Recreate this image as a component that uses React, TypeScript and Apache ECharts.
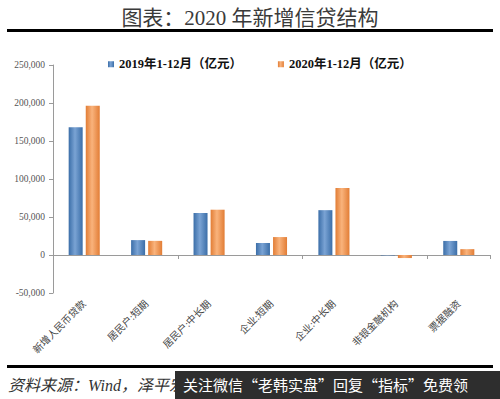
import React, { useEffect, useRef } from "react";
import * as echarts from "echarts";

const categories = ["新增人民币贷款", "居民户:短期", "居民户:中长期", "企业:短期", "企业:中长期", "非银金融机构", "票据融资"];
const series2019 = [168100, 19600, 55300, 15800, 59000, -600, 18500];
const series2020 = [196300, 18600, 59600, 23600, 88000, -4000, 7700];
const seriesNames = ["2019年1-12月（亿元）", "2020年1-12月（亿元）"];
const titleText = "图表：2020 年新增信贷结构";
const sourceText = "资料来源：Wind，泽平宏观";
const bannerText = "关注微信“老韩实盘”回复“指标”免费领";

const serif = "'Liberation Serif', 'Noto Sans CJK SC', serif";

function grad(edge: string, mid: string) {
  return new echarts.graphic.LinearGradient(0, 0, 1, 0, [
    { offset: 0, color: edge },
    { offset: 0.45, color: mid },
    { offset: 1, color: edge },
  ]);
}

export default function App() {
  const ref = useRef<HTMLDivElement>(null);
  useEffect(() => {
    if (!ref.current) return;
    const chart = echarts.init(ref.current, null, { renderer: "svg" });
    chart.setOption({
      animation: false,
      backgroundColor: "#ffffff",
      title: {
        text: titleText,
        left: "center",
        top: 2,
        textStyle: { fontFamily: serif, fontSize: 21, fontWeight: "normal", color: "#3a3a3a" },
      },
      legend: {
        top: 53,
        left: 103,
        itemWidth: 6,
        itemHeight: 6,
        itemGap: 36,
        icon: "rect",
        textStyle: { fontFamily: serif, fontSize: 12.5, fontWeight: "bold", color: "#111" },
        data: seriesNames,
      },
      grid: { left: 53, right: 10, top: 65, bottom: 106, containLabel: false },
      xAxis: [
        {
          type: "category",
          data: categories,
          axisLine: { onZero: true, lineStyle: { color: "#9a9a9a" } },
          axisTick: { show: true, length: 4, lineStyle: { color: "#9a9a9a" } },
          axisLabel: { show: false },
        },
        {
          type: "category",
          data: categories,
          position: "bottom",
          axisLine: { show: false, onZero: false },
          axisTick: { show: false },
          axisLabel: {
            interval: 0,
            rotate: 45,
            fontFamily: serif,
            fontSize: 10,
            color: "#444",
            margin: 9,
          },
        },
      ],
      yAxis: {
        type: "value",
        min: -50000,
        max: 250000,
        interval: 50000,
        splitLine: { show: false },
        axisLine: { show: true, lineStyle: { color: "#9a9a9a" } },
        axisTick: { show: true, length: 4, lineStyle: { color: "#9a9a9a" } },
        axisLabel: {
          fontFamily: serif,
          fontSize: 9.5,
          color: "#555",
          margin: 8,
          formatter: (v: number) => v.toLocaleString("en-US"),
        },
      },
      series: [
        {
          name: seriesNames[0],
          type: "bar",
          data: series2019,
          barWidth: 14,
          barGap: "22%",
          itemStyle: { color: grad("#3b6ea8", "#7aa3d4") },
        },
        {
          name: seriesNames[1],
          type: "bar",
          data: series2020,
          barWidth: 14,
          itemStyle: { color: grad("#e27d35", "#f9b37c") },
        },
      ],
      color: ["#4f81bd", "#f79646"],
      graphic: [
        { type: "rect", shape: { x: 7, y: 29, width: 486, height: 3 }, style: { fill: "#000" } },
        { type: "rect", shape: { x: 7, y: 365, width: 486, height: 3 }, style: { fill: "#000" } },
        {
          type: "text",
          x: 8,
          y: 377,
          style: { text: sourceText, fontFamily: serif, fontStyle: "italic", fontSize: 16, fill: "#333" },
        },
        { type: "rect", shape: { x: 175, y: 371, width: 325, height: 28 }, style: { fill: "#2e2e2e" } },
        {
          type: "text",
          x: 183,
          y: 377,
          style: { text: bannerText, fontFamily: "'Noto Sans CJK SC', sans-serif", fontSize: 15, fill: "#ffffff" },
        },
      ],
    });
    return () => chart.dispose();
  }, []);
  return <div ref={ref} style={{ position: "fixed", left: 0, top: 0, width: 500, height: 399 }} />;
}
